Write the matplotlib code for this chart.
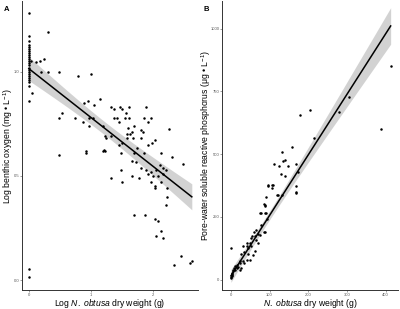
import numpy as np
import matplotlib
matplotlib.use("Agg")
import matplotlib.pyplot as plt

plt.rcParams['font.family'] = ['Liberation Sans', 'DejaVu Sans']
plt.rcParams['mathtext.fontset'] = 'custom'
plt.rcParams['mathtext.rm'] = 'Liberation Sans'
plt.rcParams['mathtext.it'] = 'Liberation Sans:italic'

# Panel A: log benthic oxygen vs log N. obtusa dry weight
a_x = [0]*22 + [0, 0, 0, 0,
       0.31, 0.05, 0.04, 0.11, 0.18, 0.245, 0.19, 0.31, 0.48, 0.79, 1.0,
       0.49, 0.54, 0.75, 0.88, 0.89, 0.96, 1.05, 0.97, 1.03, 1.15, 0.97, 1.19,
       1.23, 1.32, 1.38, 1.47, 1.50, 1.61, 1.89, 1.38, 1.43, 1.57, 1.55, 1.46,
       1.62, 1.86, 1.97, 1.92, 1.70, 1.81, 1.84, 1.60, 1.64, 1.58, 1.68, 1.81,
       1.46, 1.51, 1.93, 1.98, 2.03, 2.26, 1.74, 0.93, 1.23, 1.48, 1.70, 1.86,
       2.14, 0.49, 1.48, 1.32, 1.51, 1.66, 1.78, 1.67, 1.73, 1.81, 1.89, 1.92,
       1.97, 2.05, 2.11, 2.17, 2.22, 2.00, 2.08, 2.16, 1.97, 2.03, 2.14, 2.03,
       2.23, 2.23, 2.22, 2.49, 2.31, 1.69, 1.88, 2.03, 2.09, 2.14, 2.05, 2.16,
       2.46, 2.34, 2.60, 2.63, 0.92, 1.20, 1.21, 1.32, 1.59, 1.66, 1.24]
a_y = [1.17, 1.15, 1.13, 1.12, 1.11, 1.10, 1.09, 1.08, 1.07, 1.06, 1.05,
       1.04, 1.03, 1.02, 1.01, 1.00, 0.99, 0.98, 0.97, 0.96, 0.95, 0.93,
       1.28, 0.86, 0.055, 0.014,
       1.19, 0.90, 1.05, 1.046, 1.05, 1.06, 1.00, 1.00, 1.00, 0.98, 0.99,
       0.78, 0.80, 0.78, 0.76, 0.85, 0.86, 0.84, 0.78, 0.78, 0.87, 0.74, 0.74,
       0.69, 0.83, 0.82, 0.83, 0.82, 0.83, 0.83, 0.78, 0.78, 0.80, 0.78, 0.76,
       0.78, 0.78, 0.78, 0.76, 0.74, 0.72, 0.71, 0.73, 0.70, 0.68, 0.68, 0.68,
       0.65, 0.66, 0.65, 0.66, 0.67, 0.725, 0.635, 0.61, 0.62, 0.61, 0.61, 0.61,
       0.61, 0.60, 0.53, 0.49, 0.47, 0.50, 0.49, 0.57, 0.565, 0.54, 0.53, 0.51,
       0.52, 0.53, 0.55, 0.54, 0.53, 0.50, 0.50, 0.51, 0.47, 0.45, 0.47, 0.44,
       0.44, 0.40, 0.36, 0.555, 0.59, 0.31, 0.31, 0.295, 0.285, 0.235, 0.21, 0.20,
       0.117, 0.074, 0.08, 0.09, 0.62, 0.62, 0.625, 0.69, 0.70, 0.71, 0.68]
a_fit = (1.015, -0.234)   # intercept, slope

# Panel B: pore-water SRP vs N. obtusa dry weight
b_x = [413, 388, 305, 280, 204, 179, 214, 158, 133,
       112, 124, 135, 139, 148, 168, 129, 140, 174, 96, 107, 105, 118, 121,
       131, 90, 168, 168, 85, 89, 77, 91, 88, 93, 77, 66, 59, 70, 62, 55,
       0, 41, 49, 30, 44, 52, 35, 44, 27, 41, 32, 24, 15, 19, 8, 6, 2, 2,
       2, 1, 6, 10, 15, 27, 24, 35, 49, 58, 62, 70,
       96, 109, 168, 88, 75, 88, 86, 52, 65, 75, 41, 23, 10, 2, 0]
b_y = [852, 598, 727, 669, 674, 654, 566, 529, 510,
       461, 454, 474, 478, 454, 461, 421, 411, 428, 373, 375, 366, 336, 336,
       336, 330, 371, 349, 300, 294, 264, 264, 189, 240, 218, 198, 189, 182,
       175, 175, 126, 146, 146, 136, 126, 136, 110, 102, 102, 80, 73, 66, 59,
       52, 46, 33, 26, 20, 13, 7, 39, 39, 46, 46, 39, 66, 80, 97, 116, 146,
       375, 375, 346, 297, 264, 264, 191, 165, 158, 179, 133, 73, 54, 21, 10]
b_fit = (15, 2.41)


def fit_band(ax, x, y, fit, xmin, xmax):
    x = np.asarray(x, float)
    y = np.asarray(y, float)
    n = len(x)
    icpt, slope = fit
    resid = y - (icpt + slope * x)
    s = np.sqrt(np.sum(resid**2) / (n - 2))
    xx = np.linspace(xmin, xmax, 100)
    yy = icpt + slope * xx
    se = s * np.sqrt(1/n + (xx - x.mean())**2 / np.sum((x - x.mean())**2))
    ax.fill_between(xx, yy - 1.97*se, yy + 1.97*se, color="#c4c4c4", alpha=0.75, lw=0)
    ax.plot(xx, yy, color="black", lw=1.1)


def style(ax):
    for side in ["top", "right"]:
        ax.spines[side].set_visible(False)
    for side in ["left", "bottom"]:
        ax.spines[side].set_color("#333333")
        ax.spines[side].set_linewidth(0.7)
    ax.tick_params(labelsize=3.0, labelcolor="#555555", length=1.2, width=0.4,
                   color="#555555", pad=0.8)


fig = plt.figure(figsize=(4, 3.09), dpi=100)
axA = fig.add_axes([0.055, 0.06, 0.44, 0.937])
axB = fig.add_axes([0.555, 0.06, 0.44, 0.937])

axA.scatter(a_x, a_y, s=3.2, color="black", lw=0, zorder=3)
fit_band(axA, a_x, a_y, a_fit, 0, 2.63)
axA.set_xlim(-0.11, 2.73)
axA.set_ylim(-0.05, 1.34)
axA.set_xticks([0, 1, 2])
axA.set_yticks([0.0, 0.5, 1.0])
axA.set_yticklabels(["0.0", "0.5", "1.0"])
axA.set_xlabel("Log $\\it{N.\\ obtusa}$ dry weight (g)", fontsize=6.2, va="center")
axA.set_ylabel("Log benthic oxygen (mg \u2022 L$^{-1}$)", fontsize=6.2, va="center")
axA.xaxis.set_label_coords(0.5, -0.044)
axA.yaxis.set_label_coords(-0.08, 0.5)
style(axA)

axB.scatter(b_x, b_y, s=3.2, color="black", lw=0, zorder=3)
fit_band(axB, b_x, b_y, b_fit, 0, 413)
axB.set_xlim(-23, 432)
axB.set_ylim(-43, 1110)
axB.set_xticks([0, 100, 200, 300, 400])
axB.set_yticks([0, 250, 500, 750, 1000])
axB.set_xlabel("$\\it{N.\\ obtusa}$ dry weight (g)", fontsize=6.2, va="center")
axB.set_ylabel("Pore-water soluble reactive phosphorus (\u03bcg \u2022 L$^{-1}$)",
               fontsize=6.2, va="center")
axB.xaxis.set_label_coords(0.5, -0.044)
axB.yaxis.set_label_coords(-0.09, 0.5)
style(axB)

fig.text(0.01, 0.965, "A", fontsize=5.5, fontweight="bold")
fig.text(0.51, 0.965, "B", fontsize=5.5, fontweight="bold")

fig.savefig("out.png", dpi=100)
